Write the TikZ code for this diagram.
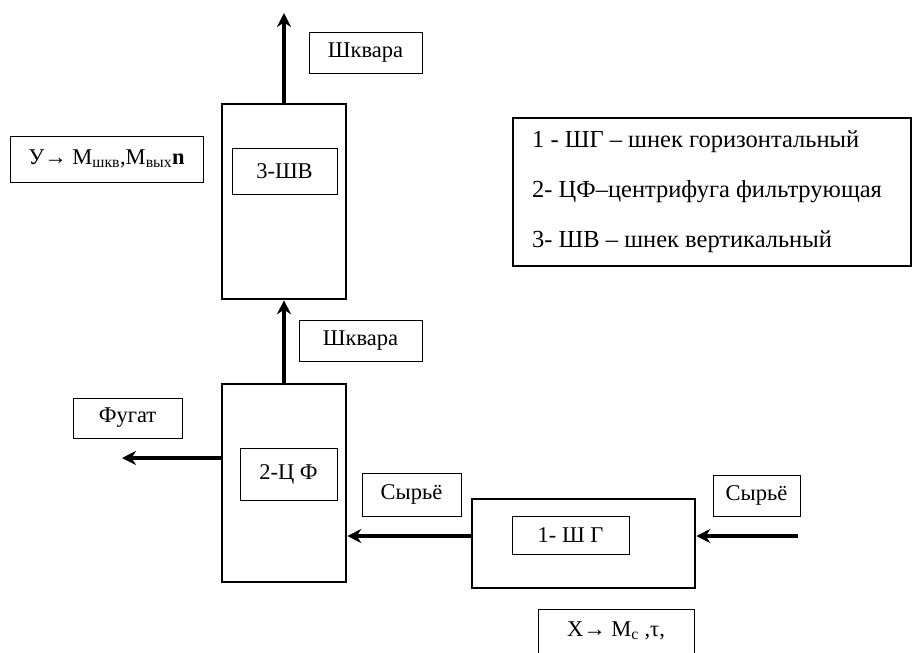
\documentclass[tikz,border=0pt]{standalone}
\usepackage{fontspec}
\setmainfont{Liberation Serif}
\usetikzlibrary{arrows.meta, positioning}
\tikzset{>={Stealth[length=14pt,width=14pt]}}
\tikzset{
	unit/.style={draw, line width=2.6pt, inner sep=0pt},
	tag/.style={draw, line width=1pt, inner sep=0pt, font=\fontsize{22.5}{26}\selectfont},
	flow/.style={->, line width=4pt}
}

\begin{document}
\begin{tikzpicture}[x=1pt, y=-1pt]
		\useasboundingbox (0,0) rectangle (913,653);
		\node[unit, minimum width=124pt, minimum height=195pt] (shv) at (284,201.5) {};
		\node[unit, minimum width=124pt, minimum height=198pt] (cf) at (284,483) {};
		\node[unit, minimum width=223pt, minimum height=89pt] (shg) at (583.5,543.5) {};
		\node[tag, minimum width=105pt, minimum height=46pt] (shvlbl) at (284.5,171) {3-ШВ};
		\node[tag, minimum width=97pt, minimum height=52pt] (cflbl) at (288.5,474) {2-Ц Ф};
		\node[tag, minimum width=117pt, minimum height=38pt] (shglbl) at (570.5,535) {1- Ш Г};
		\node[tag, minimum width=113pt, minimum height=41pt] (shkvtop) at (365.5,52.5) {Шквара};
		\node[tag, minimum width=123pt, minimum height=41pt] (shkvmid) at (360.5,340.5) {Шквара};
		\node[tag, minimum width=109pt, minimum height=40pt] (fugat) at (127.5,418) {Фугат};
		\node[tag, minimum width=99pt, minimum height=43pt] (rawl) at (411.5,494.5) {Сырьё};
		\node[tag, minimum width=87pt, minimum height=41pt] (rawr) at (756.5,495.5) {Сырьё};
		\node[tag, minimum width=193pt, minimum height=46pt] (ylbl) at (106.5,159) {У→ М\textsubscript{шкв},М\textsubscript{вых}\textbf{n}};
		\node[tag, minimum width=156pt, minimum height=44pt] (xlbl) at (616,631) {Х→ М\textsubscript{с} ,τ,};
		\node[draw, line width=1.2pt, minimum width=398pt, minimum height=148pt] (key) at (712,192) {};
		\node[anchor=west, inner sep=0pt, align=left, font=\fontsize{24.5}{50}\selectfont] (keytext) at (532,191.5)
			{1 - ШГ – шнек горизонтальный\\2- ЦФ–центрифуга фильтрующая\\3- ШВ – шнек вертикальный};
		\coordinate (shvout) at (284,13);
		\coordinate (fout) at (122,458);
		\coordinate (rawin) at (798,536);
		\draw[flow] (shv.north) -- (shvout);
		\draw[flow] (cf.north) -- (shv.south);
		\draw[flow] (cf.west |- fout) -- (fout);
		\draw[flow] (rawin) -- (shg.east |- rawin);
		\draw[flow] (shg.west |- rawin) -- (cf.east |- rawin);
	\end{tikzpicture}
\end{document}
